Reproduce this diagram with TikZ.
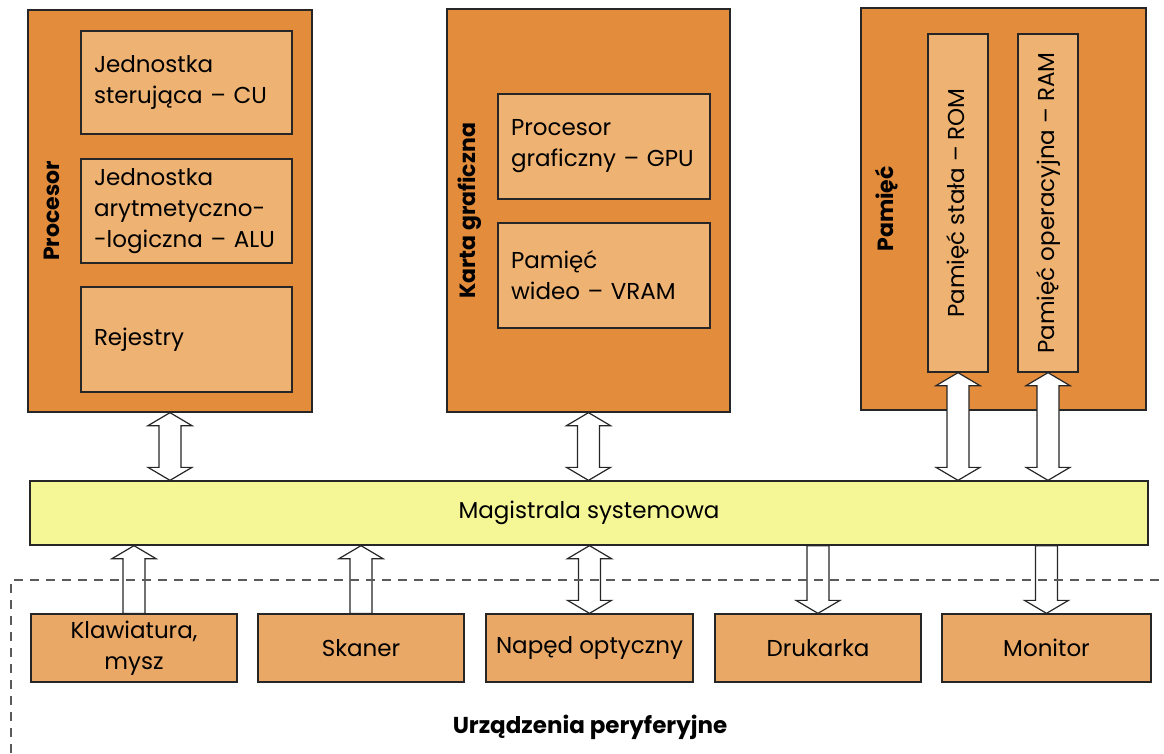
\documentclass[tikz,border=0pt]{standalone}
\usepackage{fontspec}
\setmainfont{Poppins}
\usetikzlibrary{calc}

\definecolor{unitfill}{RGB}{226,140,60}
\definecolor{partfill}{RGB}{238,178,115}
\definecolor{devfill}{RGB}{233,168,102}
\definecolor{busfill}{RGB}{245,246,150}
\definecolor{framegray}{RGB}{90,90,90}

\tikzset{
  unit/.style={draw=black!85, line width=1.3pt, fill=unitfill},
  part/.style={draw=black!85, line width=1.3pt, fill=partfill, align=left, inner xsep=13pt},
  device/.style={draw=black!85, line width=1.3pt, fill=devfill, align=center,
    minimum width=206, minimum height=68},
  bus/.style={draw=black!85, line width=1.3pt, fill=busfill},
  unitlabel/.style={rotate=90, font=\fontsize{22}{26}\selectfont\bfseries},
  fatarrow/.style={draw=black!85, fill=white, line width=1.2pt},
  periframe/.style={draw=framegray, line width=1.6pt, dash pattern=on 9pt off 7pt}
}

% hollow arrows between the bus and the boxes (x taken from the first point)
\newcommand{\dblarrow}[2]{%
  \draw[fatarrow] let \p1=(#1), \p2=(#2) in
    (\x1,\y1) -- (\x1+22pt,\y1-13pt) -- (\x1+11pt,\y1-13pt) -- (\x1+11pt,\y2+13pt)
    -- (\x1+22pt,\y2+13pt) -- (\x1,\y2) -- (\x1-22pt,\y2+13pt) -- (\x1-11pt,\y2+13pt)
    -- (\x1-11pt,\y1-13pt) -- (\x1-22pt,\y1-13pt) -- cycle;}
\newcommand{\arrowup}[2]{%
  \draw[fatarrow] let \p1=(#1), \p2=(#2) in
    (\x1,\y1) -- (\x1+22pt,\y1-13pt) -- (\x1+11pt,\y1-13pt) -- (\x1+11pt,\y2)
    -- (\x1-11pt,\y2) -- (\x1-11pt,\y1-13pt) -- (\x1-22pt,\y1-13pt) -- cycle;}
\newcommand{\arrowdown}[2]{%
  \draw[fatarrow] let \p1=(#1), \p2=(#2) in
    (\x1-11pt,\y1) -- (\x1+11pt,\y1) -- (\x1+11pt,\y2+13pt) -- (\x1+22pt,\y2+13pt)
    -- (\x1,\y2) -- (\x1-22pt,\y2+13pt) -- (\x1-11pt,\y2+13pt) -- cycle;}

\begin{document}
\begin{tikzpicture}[x=1pt, y=-1pt, font=\fontsize{23}{31}\selectfont]
  \useasboundingbox (0,0) rectangle (1164,753);

  % processor
  \node[unit, minimum width=284, minimum height=402] (proc) at (170,211) {};
  \node[part, text width=185pt, minimum height=103] (cu) at (186.5,82.5) {Jednostka\\sterująca – CU};
  \node[part, text width=185pt, minimum height=104] (alu) at (186.5,211) {Jednostka\\arytmetyczno-\\-logiczna – ALU};
  \node[part, text width=185pt, minimum height=105] (reg) at (186.5,339.5) {Rejestry};
  \node[unitlabel] (proclabel) at (52,211) {Procesor};

  % graphics card
  \node[unit, minimum width=283, minimum height=403] (card) at (588.5,210.5) {};
  \node[part, text width=186pt, minimum height=105] (gpu) at (604,146.5) {Procesor\\graficzny – GPU};
  \node[part, text width=186pt, minimum height=105] (vram) at (604,275.5) {Pamięć\\wideo – VRAM};
  \node[unitlabel] (cardlabel) at (470,211) {Karta graficzna};

  % memory
  \node[unit, minimum width=285, minimum height=402] (mem) at (1003.5,209) {};
  \node[part, minimum width=60, minimum height=338,
    label={[rotate=90]center:Pamięć stała – ROM}] (rom) at (958,203) {};
  \node[part, minimum width=60, minimum height=338,
    label={[rotate=90]center:Pamięć operacyjna – RAM}] (ram) at (1048,203) {};
  \node[unitlabel] (memlabel) at (887,209) {Pamięć};

  % bus
  \node[bus, minimum width=1118, minimum height=64] (bus) at (589,513) {Magistrala systemowa};

  % peripherals
  \node[device] (kbd) at (134,648) {Klawiatura,\\mysz};
  \node[device] (scan) at (361,648) {Skaner};
  \node[device, minimum width=207] (odd) at (589.5,648) {Napęd optyczny};
  \node[device] (print) at (818,648) {Drukarka};
  \node[device, minimum width=209] (mon) at (1046.5,648) {Monitor};

  \dblarrow{proc.south}{bus.north}
  \dblarrow{card.south}{bus.north}
  \dblarrow{rom.south}{bus.north}
  \dblarrow{ram.south}{bus.north}
  \arrowup{bus.south -| kbd.north}{kbd.north}
  \arrowup{bus.south -| scan.north}{scan.north}
  \dblarrow{bus.south -| odd.north}{odd.north}
  \arrowdown{bus.south -| print.north}{print.north}
  \arrowdown{bus.south -| mon.north}{mon.north}

  \draw[periframe] (11,753) -- (11,580) -- (1164,580);
  \node[font=\fontsize{23}{26}\selectfont\bfseries] (perilabel) at (590,727) {Urządzenia peryferyjne};
\end{tikzpicture}
\end{document}
